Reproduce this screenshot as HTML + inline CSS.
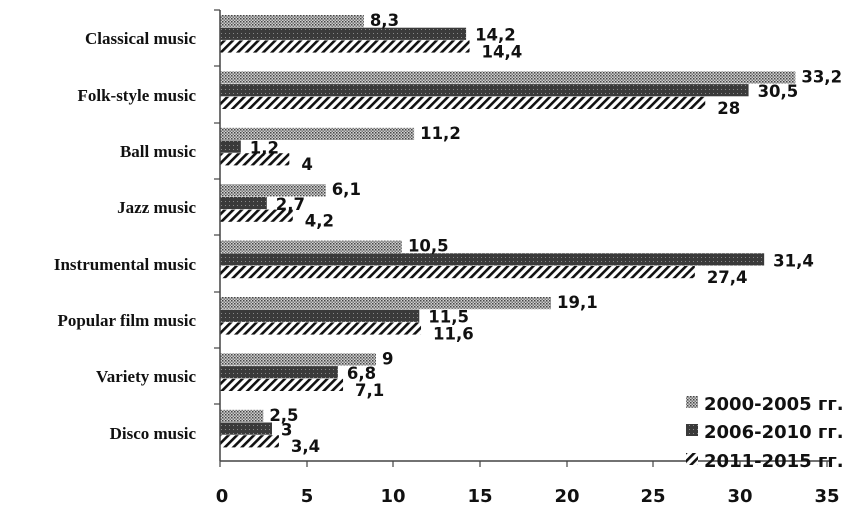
<!DOCTYPE html>
<html><head><meta charset="utf-8"><style>body{margin:0;background:#fff}svg{display:block}</style></head><body>
<svg width="854" height="518" xmlns="http://www.w3.org/2000/svg">
<defs>
<pattern id="p1" width="3" height="3" patternUnits="userSpaceOnUse"><rect width="3" height="3" fill="#d0d0d0"/><rect width="1.5" height="1.5" fill="#444"/><rect x="1.5" y="1.5" width="1.5" height="1.5" fill="#777"/></pattern>
<pattern id="p2" width="4" height="4" patternUnits="userSpaceOnUse"><rect width="4" height="4" fill="#3a3a3a"/><rect x="1" y="1" width="1" height="1" fill="#888"/></pattern>
<pattern id="p3" width="6" height="6" patternUnits="userSpaceOnUse" patternTransform="rotate(45)"><rect width="6" height="6" fill="#fff"/><rect width="2.6" height="6" fill="#111"/></pattern>
</defs>
<g id="bars"></g>
<line x1="220" y1="10" x2="220" y2="461" stroke="#444" stroke-width="1.5"/>
<line x1="220" y1="461" x2="830" y2="461" stroke="#444" stroke-width="1.5"/>
<g stroke="#444" stroke-width="1.2">
<line x1="214" y1="10" x2="220" y2="10"/><line x1="214" y1="66" x2="220" y2="66"/><line x1="214" y1="123" x2="220" y2="123"/><line x1="214" y1="179" x2="220" y2="179"/><line x1="214" y1="235" x2="220" y2="235"/><line x1="214" y1="292" x2="220" y2="292"/><line x1="214" y1="348" x2="220" y2="348"/><line x1="214" y1="404" x2="220" y2="404"/>
<line x1="220" y1="461" x2="220" y2="467"/><line x1="307" y1="461" x2="307" y2="467"/><line x1="393" y1="461" x2="393" y2="467"/><line x1="480" y1="461" x2="480" y2="467"/><line x1="567" y1="461" x2="567" y2="467"/><line x1="653" y1="461" x2="653" y2="467"/><line x1="740" y1="461" x2="740" y2="467"/><line x1="827" y1="461" x2="827" y2="467"/>
</g>
<g font-family="DejaVu Sans, sans-serif" font-weight="bold" font-size="18" text-anchor="middle" fill="#111">
<text x="222" y="502">0</text><text x="307" y="502">5</text><text x="393" y="502">10</text><text x="480" y="502">15</text><text x="567" y="502">20</text><text x="653" y="502">25</text><text x="740" y="502">30</text><text x="827" y="502">35</text>
</g>
<g font-family="Liberation Serif, serif" font-weight="bold" font-size="17" text-anchor="end" fill="#111">
<text x="196" y="44">Classical music</text><text x="196" y="101">Folk-style music</text><text x="196" y="157">Ball music</text><text x="196" y="213">Jazz music</text><text x="196" y="270">Instrumental music</text><text x="196" y="326">Popular film music</text><text x="196" y="382">Variety music</text><text x="196" y="439">Disco music</text>
</g>
<g id="labels" font-family="DejaVu Sans, sans-serif" font-weight="bold" font-size="16.5" fill="#111"></g>
<g font-family="DejaVu Sans, sans-serif" font-weight="bold" font-size="18" fill="#111">
<rect x="686" y="396" width="12" height="12" fill="url(#p1)"/><text x="704" y="410">2000-2005 гг.</text>
<rect x="686" y="424" width="12" height="12" fill="url(#p2)"/><text x="704" y="438">2006-2010 гг.</text>
<rect x="686" y="453" width="12" height="12" fill="url(#p3)"/><text x="704" y="467">2011-2015 гг.</text>
</g>
<script>
var d=[[8.3,14.2,14.4],[33.2,30.5,28],[11.2,1.2,4],[6.1,2.7,4.2],[10.5,31.4,27.4],[19.1,11.5,11.6],[9,6.8,7.1],[2.5,3,3.4]];
var b=document.getElementById('bars'),l=document.getElementById('labels'),ns='http://www.w3.org/2000/svg';
var gx=[6,9,12],gy=[11,13,17];
d.forEach(function(r,i){var top=10+i*56.4+5;r.forEach(function(v,j){var y=top+j*12.7,w=v*17.33;
var e=document.createElementNS(ns,'rect');e.setAttribute('x',220);e.setAttribute('y',y);e.setAttribute('width',w);e.setAttribute('height',12.2);e.setAttribute('fill','url(#p'+(j+1)+')');b.appendChild(e);
var t=document.createElementNS(ns,'text');t.setAttribute('x',220+w+gx[j]);t.setAttribute('y',y+gy[j]);t.textContent=String(v).replace('.',',');l.appendChild(t);});});
</script>
</svg>
</body></html>
